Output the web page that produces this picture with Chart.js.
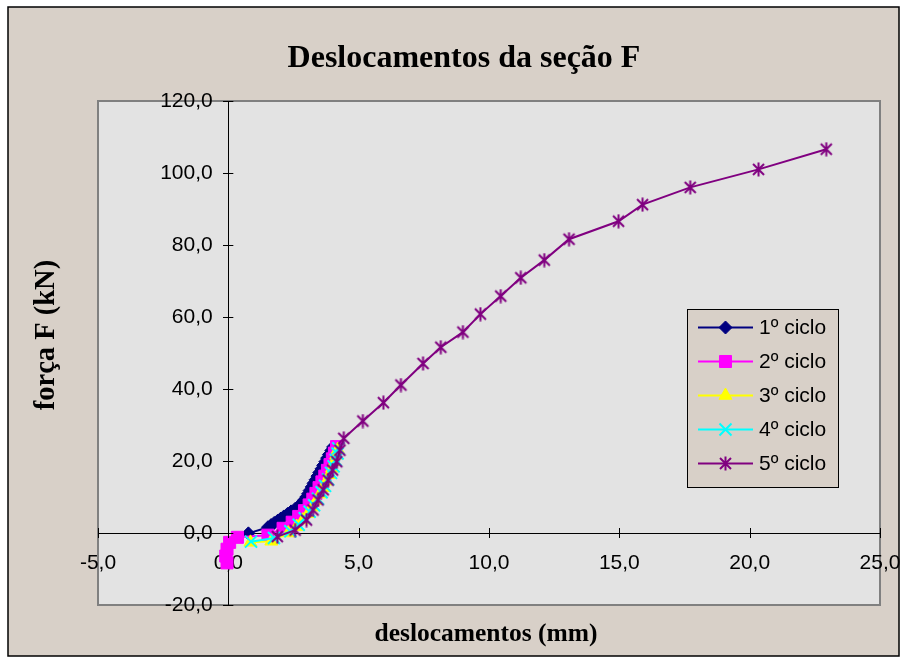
<!DOCTYPE html>
<html><head><meta charset="utf-8">
<script src="https://cdn.jsdelivr.net/npm/chart.js@4/dist/chart.umd.min.js"></script>
<style>html,body{margin:0;padding:0;background:#fff}canvas{display:block}</style>
</head><body>
<canvas id="c" width="906" height="661"></canvas>
<script>
// ---------- data ----------
const chartTitle = 'Deslocamentos da seção F';
const xAxisTitle = 'deslocamentos (mm)';
const yAxisTitle = 'força F (kN)';
const seriesNames = ['1º ciclo', '2º ciclo', '3º ciclo', '4º ciclo', '5º ciclo'];
const xTickValues = [-5, 0, 5, 10, 15, 20, 25];
const yTickValues = [-20, 0, 20, 40, 60, 80, 100, 120];

const ciclo1_desloc = [0.77, 1.52, 1.64, 1.76, 1.89, 2.01, 2.13, 2.27, 2.41, 2.56, 2.72, 2.81, 2.90, 2.99, 3.06, 3.12, 3.20, 3.27, 3.35, 3.42, 3.49, 3.57, 3.64, 3.72, 3.79, 3.86, 3.95, 4.02];
const ciclo1_forca  = [-0.1, 1.6, 2.2, 2.8, 3.4, 4.0, 4.6, 5.3, 6.0, 6.7, 7.5, 8.3, 9.1, 10.0, 10.9, 11.8, 12.8, 13.8, 14.8, 15.8, 16.8, 17.8, 18.8, 19.8, 20.8, 21.8, 22.9, 23.9];

const ciclo2_desloc = [-0.05, -0.10, -0.05, 0.05, 0.35, 1.52, 2.10, 2.45, 2.70, 2.92, 3.10, 3.24, 3.36, 3.48, 3.59, 3.70, 3.80, 3.90, 3.99, 4.07, 4.15];
const ciclo2_forca  = [-8.3, -6.4, -4.5, -2.6, -1.2, -0.6, 1.3, 3.0, 4.6, 6.2, 7.8, 9.4, 11.0, 12.6, 14.2, 15.8, 17.4, 19.0, 20.6, 22.2, 24.0];

const ciclo3_desloc = [0.85, 1.65, 2.30, 2.62, 2.86, 3.06, 3.23, 3.38, 3.52, 3.65, 3.77, 3.88, 3.98, 4.07, 4.14, 4.20];
const ciclo3_forca  = [-2.6, -2.3, 0.0, 1.8, 3.6, 5.4, 7.2, 9.0, 10.8, 12.6, 14.4, 16.2, 18.0, 19.8, 21.6, 23.2];

const ciclo4_desloc = [0.87, 1.75, 2.38, 2.70, 2.93, 3.12, 3.29, 3.44, 3.58, 3.71, 3.83, 3.94, 4.04, 4.12, 4.19, 4.22];
const ciclo4_forca  = [-2.4, -1.4, 0.5, 2.3, 4.1, 5.9, 7.7, 9.5, 11.3, 13.1, 14.9, 16.7, 18.5, 20.3, 22.1, 23.5];

const ciclo5_desloc = [1.88, 2.56, 3.00, 3.25, 3.44, 3.64, 3.83, 4.00, 4.16, 4.28, 4.43, 5.16, 5.95, 6.62, 7.47, 8.15, 9.00, 9.67, 10.45, 11.22, 12.12, 13.07, 14.97, 15.89, 17.72, 20.34, 22.94];
const ciclo5_forca  = [-1.0, 0.8, 3.6, 6.4, 9.2, 12.0, 14.7, 17.5, 19.8, 23.0, 26.3, 31.1, 36.2, 41.1, 47.1, 51.6, 55.8, 60.8, 65.8, 70.9, 75.8, 81.6, 86.6, 91.2, 96.0, 101.0, 106.6];

// ---------- styles ----------
const colors = ['#000080', '#FF00FF', '#FFFF00', '#00FFFF', '#800080'];
const BG = '#D8D0C8';
const PLOT_BG = '#E3E3E3';
const SERIF = '"Liberation Serif", "Times New Roman", serif';

function makeStar(color) {
  const c = document.createElement('canvas');
  c.width = 15; c.height = 15;
  const g = c.getContext('2d');
  g.strokeStyle = color; g.lineWidth = 2;
  g.beginPath();
  g.moveTo(2, 2); g.lineTo(13, 13);
  g.moveTo(13, 2); g.lineTo(2, 13);
  g.moveTo(7.5, 0.5); g.lineTo(7.5, 14.5);
  g.stroke();
  return c;
}
const starImg = makeStar(colors[4]);

const pointStyles = ['rectRot', 'rect', 'triangle', 'crossRot', starImg];
const pointRadii = [6.5, 8.5, 7.5, 8.5, 7];

const xs = [ciclo1_desloc, ciclo2_desloc, ciclo3_desloc, ciclo4_desloc, ciclo5_desloc];
const ys = [ciclo1_forca, ciclo2_forca, ciclo3_forca, ciclo4_forca, ciclo5_forca];

const datasets = seriesNames.map((name, i) => ({
  label: name,
  data: xs[i].map((x, k) => ({x: x, y: ys[i][k]})),
  showLine: true,
  borderColor: colors[i],
  backgroundColor: colors[i],
  borderWidth: 2,
  pointStyle: pointStyles[i],
  pointRadius: pointRadii[i],
  pointHoverRadius: pointRadii[i],
  pointBorderWidth: i === 3 ? 2 : 1,
  pointBorderColor: colors[i],
  pointBackgroundColor: colors[i],
  order: 5 - i,
  xAxisID: 'x',
  yAxisID: 'y'
}));

const fmt = v => Number(v).toFixed(1).replace('.', ',');

// ---------- plugins ----------
const framePlugin = {
  id: 'frame',
  beforeDraw(chart) {
    const ctx = chart.ctx, a = chart.chartArea;
    ctx.save();
    ctx.fillStyle = '#FFFFFF';
    ctx.fillRect(0, 0, chart.width, chart.height);
    ctx.fillStyle = BG;
    ctx.fillRect(8, 7, 891, 649);
    ctx.strokeStyle = '#000'; ctx.lineWidth = 1.5;
    ctx.strokeRect(8, 7, 891, 649);
    ctx.fillStyle = PLOT_BG;
    ctx.fillRect(a.left, a.top, a.right - a.left, a.bottom - a.top);
    ctx.strokeStyle = '#808080'; ctx.lineWidth = 2;
    ctx.strokeRect(a.left, a.top, a.right - a.left, a.bottom - a.top);
    ctx.restore();
  },
  afterLayout(chart) {
    chart.titleBlock.left = 48; chart.titleBlock.right = 880;
    const yt = chart.scales.yt;
    yt.top = 65; yt.bottom = 605;
    const xt = chart.scales.xt;
    xt.left = 92; xt.right = 880;
  },
  afterDraw(chart) {
    const ctx = chart.ctx;
    const sx = chart.scales.x, sy = chart.scales.y;
    const x0 = sx.getPixelForValue(0), y0 = sy.getPixelForValue(0);
    ctx.save();
    ctx.strokeStyle = '#000'; ctx.lineWidth = 1;
    ctx.beginPath();
    xTickValues.forEach(v => { const p = Math.round(sx.getPixelForValue(v)) + 0.5; ctx.moveTo(p, y0 - 5); ctx.lineTo(p, y0 + 5); });
    yTickValues.forEach(v => { const p = Math.round(sy.getPixelForValue(v)) + 0.5; ctx.moveTo(x0, p); ctx.lineTo(x0 + 5, p); });
    ctx.stroke();

    // legend
    const L = {x: 687, y: 309, w: 151, h: 178};
    ctx.fillStyle = BG;
    ctx.fillRect(L.x, L.y, L.w, L.h);
    ctx.strokeStyle = '#000'; ctx.lineWidth = 1;
    ctx.strokeRect(L.x + 0.5, L.y + 0.5, L.w, L.h);
    ctx.font = '21px "Liberation Sans", Arial, sans-serif';
    ctx.textBaseline = 'middle';
    ctx.textAlign = 'left';
    chart.data.datasets.forEach((ds, i) => {
      const cy = 327.5 + i * 34;
      ctx.strokeStyle = ds.borderColor; ctx.lineWidth = 2;
      ctx.beginPath(); ctx.moveTo(698, cy); ctx.lineTo(753, cy); ctx.stroke();
      ctx.fillStyle = ds.pointBackgroundColor; ctx.strokeStyle = ds.pointBorderColor;
      ctx.lineWidth = ds.pointBorderWidth;
      Chart.helpers.drawPoint(ctx, {
        pointStyle: ds.pointStyle, radius: ds.pointRadius, borderWidth: ds.pointBorderWidth, rotation: 0
      }, 725.5, cy);
      ctx.fillStyle = '#000';
      ctx.fillText(ds.label, 759, cy + 1);
    });
    ctx.restore();
  }
};

Chart.defaults.font.family = '"Liberation Sans", Arial, sans-serif';
Chart.defaults.color = '#000';

const hiddenGrid = {display: false, drawTicks: false};

new Chart(document.getElementById('c'), {
  type: 'scatter',
  data: {datasets: datasets},
  options: {
    responsive: false,
    animation: false,
    events: [],
    layout: {padding: {top: 20, left: 10, right: 26, bottom: 6}},
    plugins: {
      legend: {display: false},
      tooltip: {enabled: false},
      title: {
        display: true, text: chartTitle, color: '#000',
        font: {family: SERIF, size: 32, weight: 'bold', lineHeight: 1.2},
        padding: {top: 20, bottom: 22.6}
      }
    },
    scales: {
      x: {
        type: 'linear', axis: 'x', position: {y: 0}, min: -5, max: 25,
        afterBuildTicks: s => { s.ticks = xTickValues.map(v => ({value: v})); },
        ticks: {callback: v => fmt(v), font: {size: 21}, color: '#000', padding: 4, maxRotation: 0, autoSkip: false},
        grid: {display: true, drawOnChartArea: false, drawTicks: true, tickLength: 14, tickColor: 'rgba(0,0,0,0)', color: '#000'},
        border: {display: true, color: '#000', width: 1}
      },
      y: {
        type: 'linear', axis: 'y', position: {x: 0}, min: -20, max: 120,
        afterBuildTicks: s => { s.ticks = yTickValues.map(v => ({value: v})); },
        ticks: {display: false},
        grid: {display: true, drawOnChartArea: false, drawTicks: true, tickLength: 5, color: '#000'},
        border: {display: true, color: '#000', width: 1}
      },
      // tick labels of the force axis, set slightly left of the axis line
      yl: {
        type: 'linear', axis: 'y', position: {x: -0.6}, min: -20, max: 120,
        afterBuildTicks: s => { s.ticks = yTickValues.map(v => ({value: v})); },
        ticks: {callback: v => fmt(v), font: {size: 21}, color: '#000', autoSkip: false},
        grid: hiddenGrid, border: {display: false}
      },
      xt: {
        type: 'linear', axis: 'x', position: 'bottom',
        ticks: {display: false}, grid: hiddenGrid, border: {display: false},
        title: {display: true, text: xAxisTitle, color: '#000',
          font: {family: SERIF, size: 25.5, weight: 'bold', lineHeight: 1.2},
          padding: {top: 13.8, bottom: 5.6}}
      },
      yt: {
        type: 'linear', axis: 'y', position: 'left',
        ticks: {display: false}, grid: hiddenGrid, border: {display: false},
        title: {display: true, text: yAxisTitle, color: '#000',
          font: {family: SERIF, size: 28.5, weight: 'bold', lineHeight: 1.2},
          padding: {top: 19.9, bottom: 33.9}}
      }
    }
  },
  plugins: [framePlugin]
});
</script>
</body></html>
